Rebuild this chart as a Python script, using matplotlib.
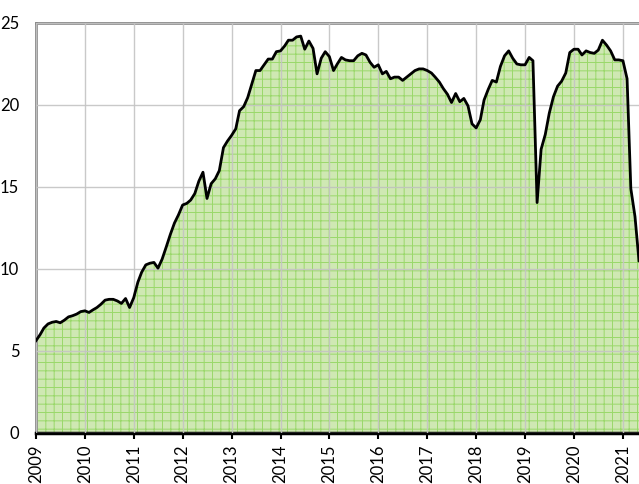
import matplotlib
matplotlib.use("Agg")
import matplotlib.pyplot as plt
import matplotlib.dates as mdates
import numpy as np
import pandas as pd

# monthly values, Jan 2009 .. May 2021
values = [
    5.63, 6.0, 6.4, 6.65, 6.75, 6.8, 6.72, 6.88, 7.08, 7.15, 7.25, 7.4,
    7.45, 7.35, 7.5, 7.65, 7.85, 8.1, 8.15, 8.15, 8.05, 7.9, 8.2, 7.65,
    8.25, 9.2, 9.8, 10.25, 10.35, 10.4, 10.05, 10.6, 11.35, 12.1, 12.8, 13.3,
    13.9, 14.0, 14.2, 14.6, 15.35, 15.9, 14.3, 15.2, 15.5, 16.0, 17.4, 17.8,
    18.15, 18.55, 19.65, 19.9, 20.45, 21.3, 22.1, 22.1, 22.45, 22.8, 22.8, 23.25,
    23.3, 23.6, 23.95, 23.95, 24.15, 24.2, 23.4, 23.9, 23.45, 21.9, 22.85, 23.25,
    22.95, 22.1, 22.5, 22.9, 22.75, 22.7, 22.7, 23.0, 23.15, 23.05, 22.6, 22.3,
    22.45, 21.9, 22.05, 21.6, 21.7, 21.7, 21.5, 21.7, 21.9, 22.1, 22.2, 22.2,
    22.1, 21.95, 21.7, 21.4, 21.0, 20.65, 20.15, 20.7, 20.2, 20.4, 19.95, 18.85,
    18.6, 19.1, 20.3, 20.95, 21.5, 21.4, 22.35, 23.0, 23.3, 22.85, 22.5, 22.45,
    22.45, 22.9, 22.7, 14.05, 17.3, 18.2, 19.5, 20.5, 21.15, 21.45, 21.95, 23.2,
    23.4, 23.4, 23.05, 23.3, 23.2, 23.15, 23.35, 23.95, 23.65, 23.3, 22.75, 22.75,
    22.7, 21.6, 14.9, 13.2, 10.5,
]
dates = pd.date_range("2009-01-01", periods=len(values), freq="MS")
y_ticks = [0, 5, 10, 15, 20, 25]

plt.rcParams["font.family"] = ["Lato", "DejaVu Sans"]
plt.rcParams["hatch.linewidth"] = 0.7
plt.rcParams["hatch.color"] = "#9ad86a"

fig = plt.figure(figsize=(6.39, 4.84), dpi=100)
ax = fig.add_axes([0.0563, 0.1054, 0.9437, 0.8471])

ax.fill_between(dates, values, 0, facecolor="#cfe8b3", edgecolor="#9ad86a",
                hatch="++", linewidth=0, zorder=1)
ax.plot(dates, values, color="black", lw=2, zorder=3)

ax.set_ylim(0, 25)
ax.set_xlim(dates[0], dates[-1])
ax.set_yticks(y_ticks)
ax.xaxis.set_major_locator(mdates.YearLocator())
ax.xaxis.set_major_formatter(mdates.DateFormatter("%Y"))
ax.grid(True, color="#c4c4c4", lw=1, alpha=0.9, zorder=2)
ax.set_axisbelow(False)

for side in ["top", "left"]:
    ax.spines[side].set_color("#8a8a8a")
    ax.spines[side].set_linewidth(2)
ax.spines["right"].set_visible(False)
ax.spines["bottom"].set_color("black")
ax.spines["bottom"].set_linewidth(2.5)

ax.tick_params(axis="y", length=0, pad=12, labelsize=12)
ax.tick_params(axis="x", length=4, width=1.5, pad=4, labelsize=12, labelrotation=90)

fig.savefig("out.png", dpi=100)
